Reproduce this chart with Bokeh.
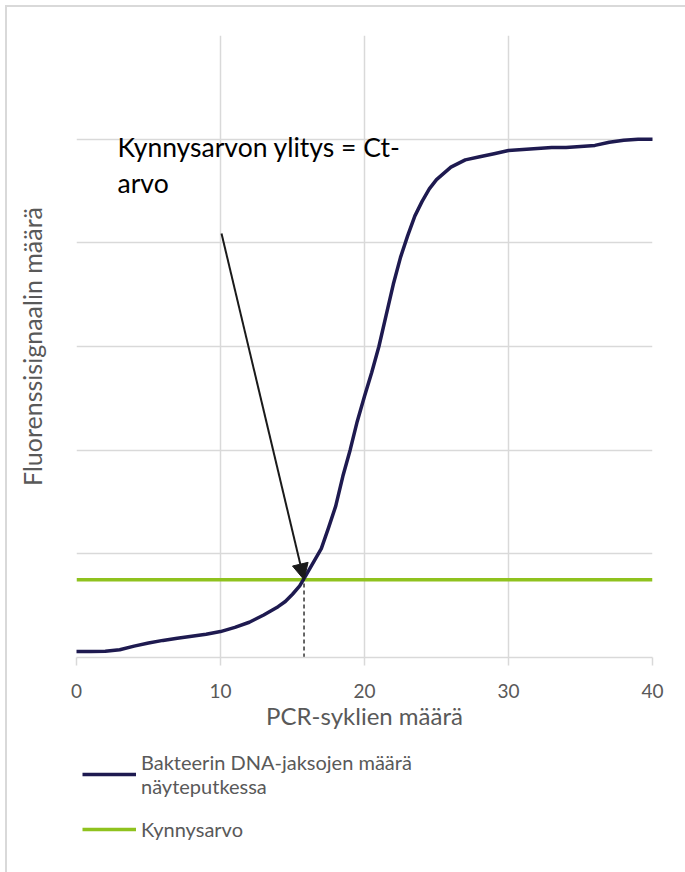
from bokeh.plotting import figure
from bokeh.layouts import column
from bokeh.models import Legend, LegendItem, Label, Arrow, NormalHead, FixedTicker
from bokeh.embed import file_html
from bokeh.resources import INLINE

# ---- data ----
cycles = [0, 1, 2, 3, 4, 5, 6, 7, 8, 9, 10, 11, 12, 13, 14, 14.5, 15, 15.5, 16,
          16.5, 17, 17.5, 18, 18.5, 19, 19.5, 20, 20.5, 21, 21.5, 22, 22.5, 23,
          23.5, 24, 24.5, 25, 26, 27, 28, 29, 30, 31, 32, 33, 34, 35, 36, 37,
          38, 39, 40]
signal = [0.058, 0.058, 0.060, 0.075, 0.110, 0.140, 0.165, 0.185, 0.205, 0.225,
          0.250, 0.290, 0.340, 0.410, 0.490, 0.540, 0.610, 0.690, 0.810,
          0.930, 1.050, 1.250, 1.460, 1.750, 2.000, 2.280, 2.520, 2.750, 3.000,
          3.300, 3.600, 3.860, 4.070, 4.260, 4.400, 4.520, 4.610, 4.730, 4.800,
          4.830, 4.860, 4.890, 4.900, 4.910, 4.920, 4.920, 4.930, 4.940, 4.970,
          4.990, 5.000, 5.000]
threshold = 0.75
ct_cycle = 15.8
arrow_tail_x = 10.07
arrow_tail_y = 4.09
x_ticks = [0, 10, 20, 30, 40]
y_grid = [0, 1, 2, 3, 4, 5, 6]

series_label = "Bakteerin DNA-jaksojen määrä\nnäyteputkessa"
threshold_label = "Kynnysarvo"
annotation = "Kynnysarvon ylitys = Ct-\narvo"
x_title = "PCR-syklien määrä"
y_title = "Fluorenssisignaalin määrä"

FONT = "Lato"
GRAY = "#595959"
GRID = "#d9d9d9"
NAVY = "#1e1a50"
GREEN = "#8fc21e"

p = figure(width=678, height=733, x_range=(0, 40), y_range=(0, 6),
           output_backend="svg", toolbar_location=None,
           min_border_left=69, min_border_top=28, min_border_right=33,
           min_border_bottom=83)
p.outline_line_color = None
p.background_fill_color = "white"

# grid
p.xaxis.ticker = FixedTicker(ticks=x_ticks)
p.yaxis.ticker = FixedTicker(ticks=[])
p.ygrid.ticker = FixedTicker(ticks=y_grid)
p.xgrid.grid_line_color = GRID
p.ygrid.grid_line_color = GRID
p.xgrid.grid_line_width = 1.5
p.ygrid.grid_line_width = 1.5

# x axis
p.xaxis.axis_line_color = GRID
p.xaxis.axis_line_width = 1.5
p.xaxis.major_tick_line_color = GRID
p.xaxis.major_tick_line_width = 1.5
p.xaxis.major_tick_in = 0
p.xaxis.major_tick_out = 8
p.xaxis.minor_tick_line_color = None
p.xaxis.major_label_text_font = FONT
p.xaxis.major_label_text_font_size = "19px"
p.xaxis.major_label_text_color = GRAY
p.xaxis.major_label_standoff = 18
p.xaxis.axis_label = x_title
p.xaxis.axis_label_text_font = FONT
p.xaxis.axis_label_text_font_size = "24px"
p.xaxis.axis_label_text_font_style = "normal"
p.xaxis.axis_label_text_color = GRAY
p.xaxis.axis_label_standoff = 0

# y axis
p.yaxis.axis_line_color = None
p.yaxis.major_tick_line_color = None
p.yaxis.minor_tick_line_color = None
p.yaxis.axis_label = y_title
p.yaxis.axis_label_text_font = FONT
p.yaxis.axis_label_text_font_size = "25px"
p.yaxis.axis_label_text_font_style = "normal"
p.yaxis.axis_label_text_color = GRAY
p.yaxis.axis_label_standoff = 30

# series
r_green = p.line([cycles[0], cycles[-1]], [threshold, threshold],
                 line_color=GREEN, line_width=3.5)
r_curve = p.line(cycles, signal, line_color=NAVY, line_width=3.5,
                 line_join="round", line_cap="round")

# dashed drop line at Ct
p.line([ct_cycle, ct_cycle], [0, threshold], line_color="black",
       line_width=1.2, line_dash="4 3")

# arrow
p.add_layout(Arrow(x_start=arrow_tail_x, y_start=arrow_tail_y,
                   x_end=ct_cycle, y_end=threshold,
                   line_color="#1a1a1a", line_width=2,
                   end=NormalHead(size=16, fill_color="#1a1a1a",
                                  line_color="#1a1a1a", line_width=1)))

# annotation text
p.add_layout(Label(x=2.85, y=5.08, text=annotation, text_font=FONT,
                   text_font_size="26.5px", text_color="black",
                   text_baseline="top", text_align="left",
                   text_line_height=1.13))

# legend panel underneath (its ranges keep the proxy series out of view)
p2 = figure(width=678, height=132, x_range=(100, 101), y_range=(100, 101),
            output_backend="svg", toolbar_location=None,
            min_border_left=59, min_border_top=4, min_border_right=0,
            min_border_bottom=0)
p2.axis.visible = False
p2.grid.visible = False
p2.outline_line_color = None
g_curve = p2.line(cycles, signal, line_color=NAVY, line_width=3.5)
g_green = p2.line([cycles[0], cycles[-1]], [threshold, threshold],
                  line_color=GREEN, line_width=3.5)

legend = Legend(items=[LegendItem(label=series_label, renderers=[g_curve]),
                       LegendItem(label=threshold_label, renderers=[g_green])],
                location="top_left", orientation="vertical",
                label_text_font=FONT, label_text_font_size="20px",
                label_text_color=GRAY, label_text_line_height=1.5,
                glyph_width=54, glyph_height=24,
                label_standoff=5, spacing=19, padding=0, margin=6,
                border_line_color=None, background_fill_alpha=0)
p2.add_layout(legend, "center")

layout = column(p, p2, spacing=0, margin=(5, 0, 0, 5),
                styles={"border-left": "2px solid #d9d9d9",
                        "border-top": "2px solid #d9d9d9"})

open("out.html", "w").write(file_html(layout, INLINE))
